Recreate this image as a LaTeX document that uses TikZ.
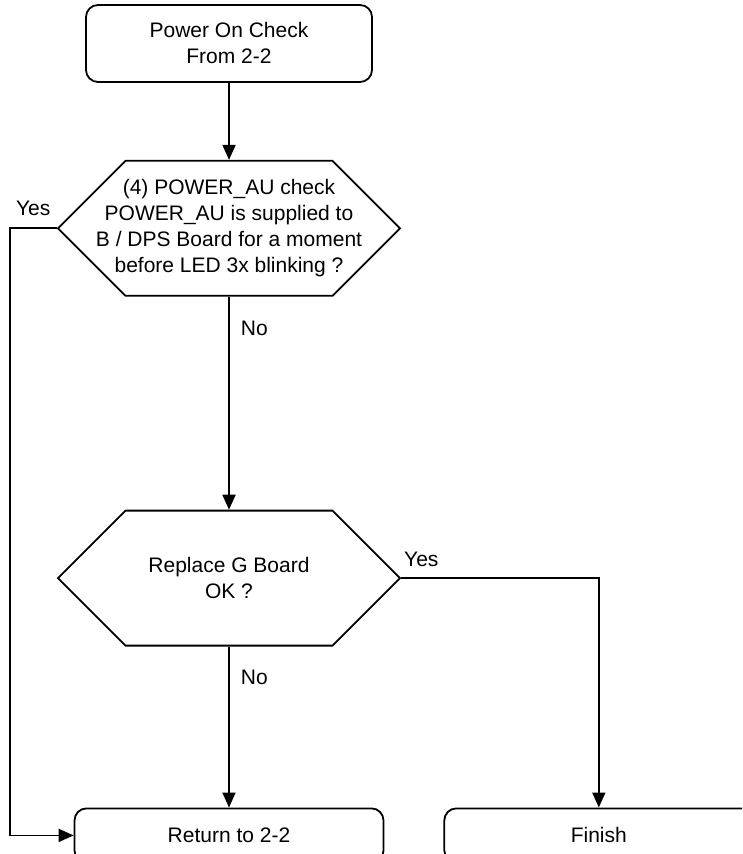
\documentclass[tikz,border=0pt]{standalone}
\usepackage{fontspec}
\setmainfont{Liberation Sans}
\usetikzlibrary{arrows.meta,positioning,shapes.symbols}

\begin{document}
\begin{tikzpicture}[
        x=0.5pt, y=-0.5pt,
        font=\fontsize{10.5}{13}\selectfont,
        startbox/.style={draw, rounded corners=6pt, line width=0.9pt, align=center, minimum width=143pt, minimum height=38.5pt, inner sep=2pt},
        endbox/.style={draw, rounded corners=6pt, line width=0.9pt, align=center, minimum width=154.5pt, minimum height=27pt, inner sep=2pt},
        decision/.style={draw, signal, signal to=east and west, signal pointer angle=90, line width=0.9pt, align=center, minimum width=171pt, minimum height=67.5pt, inner xsep=-30pt, inner ysep=1pt},
        lbl/.style={inner sep=0pt},
        link/.style={line width=0.9pt, -{Triangle[length=7.5pt,width=6.5pt]}}
    ]
        \useasboundingbox (0,0) rectangle (742,854);
        \clip (0,0) rectangle (742,854);

        \node[startbox] (start) at (229,43.5) {Power On Check\\From 2-2};
        \node[decision, below=38.5pt of start] (check) {(4) POWER\_AU check\\POWER\_AU is supplied to\\B / DPS Board for a moment\\before LED 3x blinking ?};
        \node[decision, below=106.5pt of check] (replace) {Replace G Board\\OK ?};
        \node[endbox, below=80.5pt of replace] (back) {Return to 2-2};
        \node[endbox, right=29.5pt of back] (finish) {Finish};

        \draw[link] (start) -- (check);
        \draw[link] (check.south) -- node[lbl, pos=0.15, right=5.5pt]{No} (replace.north);
        \draw[link] (check.west) -- node[lbl, above=6pt]{Yes} ([xshift=-23.5pt]check.west) |- (back.west);
        \draw[link] (replace.south) -- node[lbl, pos=0.19, right=5.5pt]{No} (back.north);
        \draw[link] (replace.east) -| node[lbl, pos=0, above right=5pt and 1pt]{Yes} (finish.north);
    \end{tikzpicture}
\end{document}
